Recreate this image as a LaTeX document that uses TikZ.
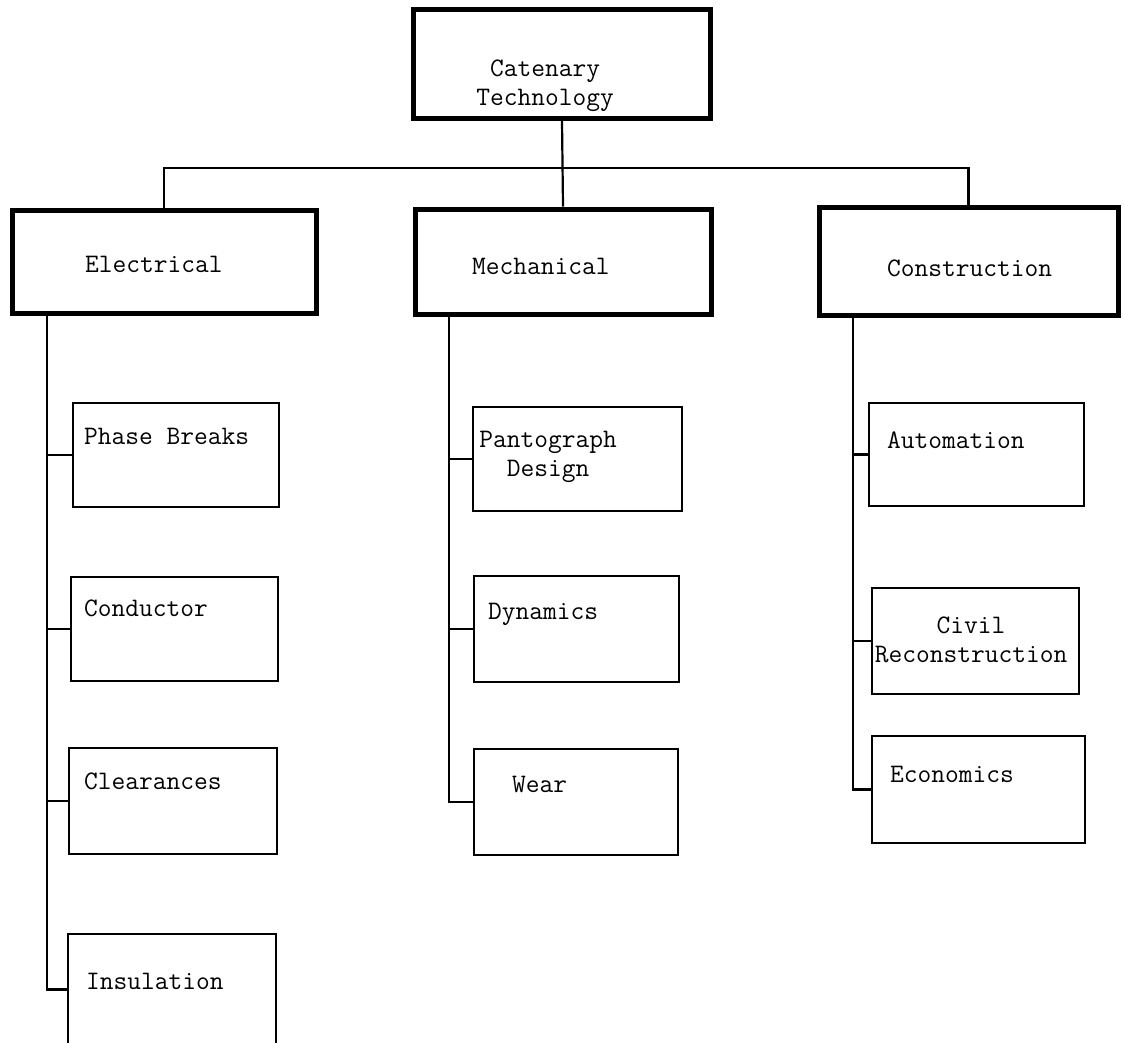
\documentclass[tikz,border=0pt]{standalone}
\usepackage{fontspec}
\begin{document}
\begin{tikzpicture}[x=1pt,y=-1pt,
    mainbox/.style={draw,line width=5pt,inner sep=0pt},
    subbox/.style={draw,line width=2.2pt,inner sep=0pt},
    lbl/.style={font=\fontsize{26.7}{29}\selectfont\ttfamily,inner sep=0pt},
    conn/.style={line width=2.2pt}]
  \useasboundingbox (0,0) rectangle (1124,1042);
  % top level
  \node[mainbox,minimum width=297pt,minimum height=109pt] (cat) at (562,64) {};
  \node[lbl,align=center] (catt) at (545,86) {Catenary\\Technology};
  \node[mainbox,minimum width=304pt,minimum height=103pt] (elec) at (164,261.5) {};
  \node[mainbox,minimum width=296pt,minimum height=105pt] (mech) at (563,261.5) {};
  \node[mainbox,minimum width=299pt,minimum height=108pt] (cons) at (968.5,261) {};
  \node[lbl,anchor=base west] (elect) at (85,272) {Electrical};
  \node[lbl,anchor=base west] (mecht) at (472,274) {Mechanical};
  \node[lbl,anchor=base west] (const) at (887,276) {Construction};
  % electrical
  \node[subbox,minimum width=206pt,minimum height=104pt] (phase) at (176,455) {};
  \node[subbox,minimum width=207pt,minimum height=104pt] (cond) at (174.5,629) {};
  \node[subbox,minimum width=208pt,minimum height=106pt] (clear) at (173,801) {};
  \node[subbox,minimum width=208pt,minimum height=111pt] (ins) at (172,989.5) {};
  \node[lbl,anchor=base west] (phaset) at (84,444) {Phase Breaks};
  \node[lbl,anchor=base west] (condt) at (84,616) {Conductor};
  \node[lbl,anchor=base west] (cleart) at (84,789) {Clearances};
  \node[lbl,anchor=base west] (inst) at (86,989) {Insulation};
  % mechanical
  \node[subbox,minimum width=209pt,minimum height=104pt] (pant) at (577.5,459) {};
  \node[subbox,minimum width=205pt,minimum height=106pt] (dyn) at (576.5,629) {};
  \node[subbox,minimum width=204pt,minimum height=106pt] (wear) at (576,802) {};
  \node[lbl,align=center] (pantt) at (548,457) {Pantograph\\Design};
  \node[lbl,anchor=base west] (dynt) at (488,619) {Dynamics};
  \node[lbl,anchor=base west] (weart) at (512,792) {Wear};
  % construction
  \node[subbox,minimum width=215pt,minimum height=103pt] (auto) at (976.5,454.5) {};
  \node[subbox,minimum width=207pt,minimum height=106pt] (civil) at (975.5,641) {};
  \node[subbox,minimum width=213pt,minimum height=107pt] (econ) at (978.5,789.5) {};
  \node[lbl,anchor=base west] (autot) at (887,448) {Automation};
  \node[lbl,align=center] (civilt) at (971,640) {Civil\\Reconstruction};
  \node[lbl,anchor=base west] (econt) at (890,782) {Economics};
  % connectors
  \coordinate (bar) at (562,168);
  \coordinate (etop) at (47,315);
  \coordinate (mtop) at (449,316);
  \coordinate (ctop) at (853,317);
  \draw[conn] (cat.south) -- (mech.north);
  \draw[conn] (elec.north) |- (bar) -| (cons.north);
  \draw[conn] (etop) |- (ins.west);
  \draw[conn] (phase.west) -- (phase.west -| etop);
  \draw[conn] (cond.west) -- (cond.west -| etop);
  \draw[conn] (clear.west) -- (clear.west -| etop);
  \draw[conn] (mtop) |- (wear.west);
  \draw[conn] (pant.west) -- (pant.west -| mtop);
  \draw[conn] (dyn.west) -- (dyn.west -| mtop);
  \draw[conn] (ctop) |- (econ.west);
  \draw[conn] (auto.west) -- (auto.west -| ctop);
  \draw[conn] (civil.west) -- (civil.west -| ctop);
\end{tikzpicture}
\end{document}
